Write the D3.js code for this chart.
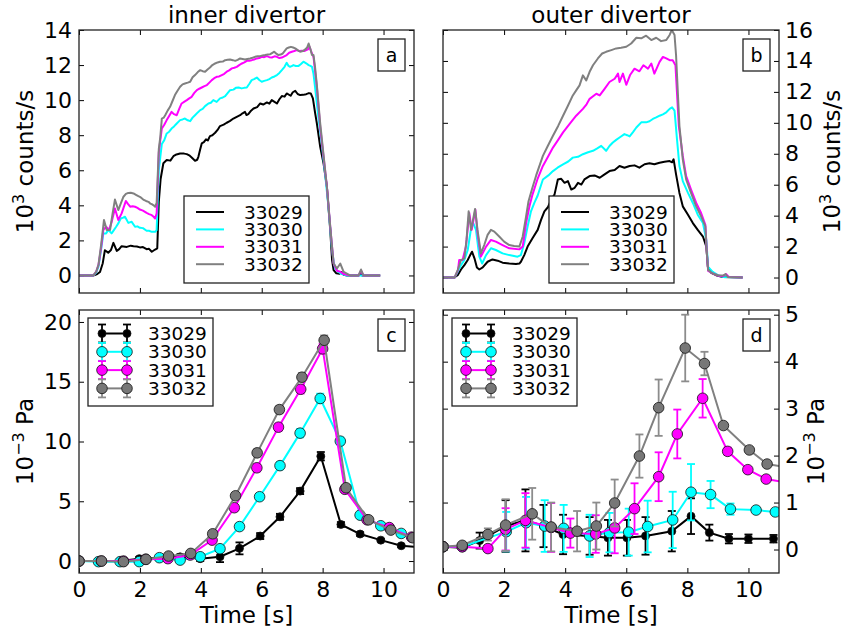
<!DOCTYPE html>
<html>
<head>
<meta charset="utf-8">
<script src="https://cdn.jsdelivr.net/npm/d3@7"></script>
<style>
  body { margin: 0; background: #fff; }
  svg { display: block; font-family: "DejaVu Sans", sans-serif; }
</style>
</head>
<body>
<div id="chart"></div>
<script>
const shots = ['33029', '33030', '33031', '33032']
const lineColors = ['#000000', '#00ffff', '#ff00ff', '#808080']
const markerFills = ['#000000', '#00ffff', '#ff00ff', '#777777']
const errColors = ['#000000', '#00ffff', '#ff00ff', '#8c8c8c']
const timeTicks = [0, 2, 4, 6, 8, 10]

// inner divertor counts: [time s, 10^3 counts/s]
const inner33029 = [[0,0],[0.47,0],[0.6,0.08],[0.69,0.2],[0.78,0.7],[0.85,1.44],[0.96,1.3],[1.05,1.45],[1.13,1.86],[1.24,1.4],[1.32,1.5],[1.4,1.67],[1.57,1.63],[1.7,1.7],[1.79,1.67],[1.9,1.65],[2.0,1.6],[2.1,1.62],[2.22,1.5],[2.3,1.52],[2.39,1.35],[2.5,1.48],[2.57,1.55],[2.62,4.2],[2.68,5.5],[2.77,6.4],[2.88,6.58],[3.0,6.55],[3.1,6.8],[3.2,6.9],[3.32,6.96],[3.45,6.95],[3.54,6.92],[3.62,6.85],[3.7,6.73],[3.81,6.54],[3.88,6.6],[3.92,6.77],[3.98,7.2],[4.03,7.53],[4.1,7.6],[4.17,7.76],[4.23,7.7],[4.3,7.95],[4.38,8.0],[4.47,8.14],[4.55,8.3],[4.63,8.52],[4.75,8.6],[4.85,8.71],[4.95,8.8],[5.07,8.95],[5.18,9.05],[5.29,9.14],[5.37,9.25],[5.45,9.33],[5.5,9.15],[5.56,9.2],[5.65,9.4],[5.73,9.52],[5.85,9.6],[5.95,9.81],[6.05,9.75],[6.17,9.87],[6.25,9.8],[6.33,10.0],[6.42,9.9],[6.5,9.81],[6.58,10.05],[6.66,10.23],[6.75,10.2],[6.82,10.38],[6.95,10.25],[7.02,10.45],[7.1,10.53],[7.18,10.35],[7.26,10.29],[7.36,10.3],[7.46,10.34],[7.55,10.4],[7.61,10.38],[7.68,10.1],[7.75,9.3],[7.81,8.67],[7.92,7.34],[8.03,6.39],[8.14,5.06],[8.25,2.59],[8.31,0.87],[8.36,0.3],[8.45,0.12],[8.55,0.1],[8.62,0.2],[8.69,0.04],[8.8,0],[9.18,0],[9.24,0.1],[9.3,0],[9.89,0]]
const inner33030 = [[0,0],[0.47,0],[0.56,0.15],[0.64,0.5],[0.72,1.4],[0.8,2.4],[0.89,2.4],[0.96,2.6],[1.07,2.4],[1.15,2.6],[1.22,2.78],[1.3,3.0],[1.37,3.25],[1.45,3.3],[1.51,3.35],[1.62,3.0],[1.73,3.06],[1.84,2.78],[1.92,2.8],[2.0,2.72],[2.1,2.7],[2.22,2.55],[2.3,2.55],[2.39,2.49],[2.5,2.49],[2.55,2.59],[2.62,6.0],[2.67,6.77],[2.72,7.5],[2.8,7.72],[2.88,8.1],[2.96,8.2],[3.04,8.38],[3.12,8.5],[3.21,8.67],[3.32,8.86],[3.4,8.9],[3.48,8.95],[3.57,8.85],[3.65,8.8],[3.73,9.0],[3.81,9.14],[3.9,9.3],[3.98,9.43],[4.06,9.5],[4.14,9.66],[4.25,9.81],[4.33,9.85],[4.41,10.0],[4.52,9.9],[4.63,10.1],[4.72,10.15],[4.8,10.23],[4.88,10.4],[4.96,10.57],[5.07,10.6],[5.15,10.7],[5.24,10.72],[5.34,10.67],[5.42,10.7],[5.51,10.72],[5.6,10.95],[5.67,11.14],[5.75,11.2],[5.84,11.29],[5.92,11.15],[6.0,11.05],[6.08,11.1],[6.17,11.14],[6.25,11.2],[6.33,11.29],[6.42,11.35],[6.5,11.43],[6.58,11.55],[6.66,11.71],[6.75,11.9],[6.82,12.13],[6.88,11.95],[6.93,11.9],[7.0,11.95],[7.04,12.0],[7.12,11.95],[7.2,11.94],[7.28,12.05],[7.37,12.19],[7.46,12.1],[7.54,12.0],[7.6,11.95],[7.65,11.9],[7.7,11.5],[7.75,10.76],[7.86,9.05],[7.97,7.53],[8.08,5.82],[8.19,3.92],[8.3,1.63],[8.36,0.8],[8.41,0.4],[8.52,0.2],[8.63,0.08],[8.8,0],[9.89,0]]
const inner33031 = [[0,0],[0.47,0],[0.56,0.2],[0.64,0.6],[0.72,1.5],[0.8,2.6],[0.89,2.78],[0.99,2.6],[1.08,3.1],[1.18,3.82],[1.29,3.16],[1.4,3.54],[1.47,3.9],[1.54,4.25],[1.6,4.1],[1.68,3.92],[1.76,3.95],[1.84,3.92],[1.92,3.85],[2.0,3.76],[2.1,3.7],[2.22,3.57],[2.3,3.5],[2.39,3.44],[2.45,3.35],[2.5,3.25],[2.55,3.54],[2.62,7.0],[2.67,7.72],[2.72,8.38],[2.8,8.6],[2.88,8.86],[2.96,9.1],[3.04,9.33],[3.12,9.2],[3.21,9.14],[3.29,9.5],[3.37,9.81],[3.45,9.9],[3.54,10.0],[3.62,10.1],[3.7,10.19],[3.78,10.4],[3.87,10.57],[3.95,10.65],[4.03,10.72],[4.12,10.8],[4.2,10.86],[4.28,11.0],[4.36,11.14],[4.44,11.25],[4.52,11.33],[4.6,11.35],[4.69,11.43],[4.77,11.5],[4.85,11.62],[4.93,11.7],[5.02,11.81],[5.1,11.85],[5.18,11.9],[5.26,12.0],[5.35,12.09],[5.43,12.15],[5.51,12.24],[5.59,12.25],[5.67,12.28],[5.75,12.32],[5.84,12.38],[5.92,12.4],[6.0,12.47],[6.08,12.45],[6.17,12.51],[6.25,12.45],[6.33,12.43],[6.42,12.5],[6.5,12.47],[6.58,12.4],[6.66,12.43],[6.74,12.5],[6.82,12.57],[6.9,12.7],[6.99,12.76],[7.07,12.8],[7.15,12.85],[7.23,12.8],[7.32,12.81],[7.4,12.8],[7.46,12.85],[7.52,12.9],[7.57,13.04],[7.62,12.8],[7.65,12.66],[7.7,12.47],[7.75,11.7],[7.81,10.76],[7.92,8.48],[8.03,6.77],[8.14,5.06],[8.25,2.78],[8.36,0.68],[8.47,0.27],[8.58,0.21],[8.69,0.08],[8.9,0],[9.18,0],[9.26,0.27],[9.34,0],[9.89,0]]
const inner33032 = [[0,0],[0.47,0],[0.56,0.2],[0.64,0.6],[0.73,1.8],[0.82,3.16],[0.91,2.6],[1.02,2.6],[1.1,3.5],[1.18,4.33],[1.29,3.73],[1.37,4.1],[1.46,4.49],[1.54,4.65],[1.62,4.71],[1.7,4.72],[1.79,4.68],[1.87,4.6],[1.95,4.52],[2.03,4.45],[2.11,4.33],[2.2,4.25],[2.28,4.2],[2.34,4.1],[2.39,4.07],[2.45,4.0],[2.5,3.92],[2.55,4.14],[2.62,7.2],[2.67,7.91],[2.72,8.95],[2.78,9.0],[2.83,9.14],[2.91,9.4],[2.99,9.62],[3.07,9.95],[3.15,10.29],[3.24,10.55],[3.32,10.76],[3.4,10.9],[3.48,10.95],[3.57,11.0],[3.65,11.05],[3.73,11.3],[3.81,11.43],[3.9,11.6],[3.98,11.71],[4.06,11.65],[4.14,11.62],[4.22,11.75],[4.3,11.86],[4.38,12.0],[4.47,12.09],[4.55,12.15],[4.63,12.19],[4.72,12.2],[4.8,12.28],[4.88,12.3],[4.96,12.32],[5.05,12.28],[5.13,12.24],[5.21,12.3],[5.29,12.38],[5.37,12.35],[5.45,12.32],[5.53,12.35],[5.62,12.38],[5.7,12.42],[5.78,12.47],[5.86,12.5],[5.95,12.51],[6.03,12.55],[6.11,12.57],[6.2,12.6],[6.28,12.62],[6.35,12.7],[6.41,12.76],[6.48,12.65],[6.55,12.57],[6.62,12.6],[6.69,12.66],[6.75,12.8],[6.82,12.95],[6.89,13.0],[6.96,13.04],[7.03,13.0],[7.1,12.95],[7.18,12.85],[7.26,12.76],[7.35,12.8],[7.43,12.89],[7.49,13.0],[7.54,13.23],[7.6,12.9],[7.65,12.57],[7.7,12.57],[7.75,11.9],[7.81,10.86],[7.92,8.67],[8.03,6.86],[8.14,5.06],[8.25,2.78],[8.36,0.68],[8.47,0.4],[8.58,0.68],[8.69,0.21],[8.9,0],[9.18,0],[9.26,0.34],[9.34,0],[9.89,0]]

// outer divertor counts: [time s, 10^3 counts/s]
const outer33029 = [[0,0],[0.37,0],[0.48,0.15],[0.59,0.52],[0.7,0.8],[0.81,1.13],[0.89,1.45],[0.95,1.67],[1.03,1.24],[1.11,0.65],[1.19,0.52],[1.3,0.65],[1.46,1.02],[1.62,1.17],[1.79,1.09],[1.95,0.96],[2.17,0.91],[2.39,0.87],[2.5,0.9],[2.55,1.02],[2.66,1.45],[2.77,2.0],[2.93,2.54],[3.1,3.08],[3.21,3.73],[3.32,4.28],[3.44,4.56],[3.54,5.04],[3.65,5.36],[3.76,6.34],[3.87,6.38],[3.98,6.12],[4.09,6.23],[4.2,5.69],[4.31,5.8],[4.42,6.12],[4.53,6.01],[4.63,6.34],[4.8,6.56],[4.96,6.6],[5.13,6.45],[5.29,6.67],[5.45,6.88],[5.62,6.95],[5.78,7.21],[5.94,7.1],[6.11,7.21],[6.27,7.25],[6.43,7.1],[6.6,7.32],[6.76,7.38],[6.92,7.32],[7.09,7.42],[7.25,7.49],[7.42,7.53],[7.5,7.45],[7.55,7.64],[7.63,6.67],[7.74,5.47],[7.85,4.6],[8.02,4.06],[8.18,3.52],[8.34,3.08],[8.51,2.65],[8.62,2.0],[8.67,0.7],[8.78,0.3],[8.94,0.15],[9.16,0.04],[9.81,0]]
const outer33030 = [[0,0],[0.38,0],[0.48,0.37],[0.59,0.8],[0.7,1.13],[0.81,1.78],[0.92,3.19],[0.99,3.52],[1.08,3.08],[1.19,1.35],[1.28,0.91],[1.41,1.45],[1.57,1.89],[1.73,1.78],[1.95,1.56],[2.17,1.45],[2.44,1.35],[2.55,1.45],[2.66,2.21],[2.77,3.3],[2.88,4.28],[2.99,4.82],[3.1,5.3],[3.27,6.34],[3.45,6.6],[3.6,6.88],[3.75,7.1],[3.93,7.32],[4.1,7.5],[4.25,7.75],[4.42,7.8],[4.58,7.97],[4.75,8.1],[4.91,8.19],[5.05,8.35],[5.18,8.51],[5.34,8.19],[5.45,8.5],[5.56,8.73],[5.67,8.9],[5.78,9.05],[5.94,9.27],[6.03,9.2],[6.11,9.12],[6.22,9.4],[6.33,9.7],[6.49,10.03],[6.65,10.03],[6.76,10.1],[6.87,10.25],[6.98,10.35],[7.09,10.46],[7.2,10.55],[7.31,10.68],[7.42,10.9],[7.5,11.0],[7.58,10.79],[7.66,8.95],[7.74,7.21],[7.85,6.23],[8.02,5.47],[8.18,4.82],[8.34,4.06],[8.51,3.52],[8.62,2.43],[8.68,0.69],[8.83,0.37],[9.0,0.15],[9.16,0.04],[9.81,0]]
const outer33031 = [[0,0],[0.38,0],[0.49,0.48],[0.53,1.13],[0.64,1.13],[0.75,2.0],[0.86,4.17],[0.94,3.08],[1.06,4.39],[1.13,2.87],[1.24,1.35],[1.41,2.0],[1.57,2.43],[1.73,2.32],[1.95,2.1],[2.17,1.89],[2.5,1.82],[2.61,2.0],[2.72,3.52],[2.83,4.6],[2.93,5.36],[3.1,6.4],[3.27,7.21],[3.45,7.85],[3.6,8.4],[3.77,8.9],[3.93,9.38],[4.14,9.92],[4.36,10.46],[4.58,10.9],[4.7,11.2],[4.8,11.55],[5.02,11.88],[5.13,11.77],[5.29,12.2],[5.45,12.64],[5.62,12.85],[5.73,13.18],[5.78,12.64],[5.89,13.18],[6.0,12.46],[6.13,13.11],[6.27,13.5],[6.43,13.33],[6.56,13.72],[6.71,13.5],[6.82,13.83],[6.92,13.18],[7.09,13.94],[7.2,14.26],[7.31,14.16],[7.42,14.05],[7.52,14.05],[7.61,13.72],[7.72,9.81],[7.85,7.86],[7.96,6.56],[8.12,5.69],[8.29,4.82],[8.45,4.17],[8.59,3.41],[8.64,1.56],[8.68,0.43],[8.83,0.26],[9.0,0.13],[9.16,0.09],[9.27,0.22],[9.36,0.04],[9.81,0]]
const outer33032 = [[0,0],[0.38,0],[0.48,0.48],[0.59,1.13],[0.7,1.24],[0.77,2.43],[0.84,4.28],[0.92,3.08],[1.05,4.43],[1.13,3.08],[1.24,1.56],[1.35,2.1],[1.46,2.76],[1.57,3.08],[1.68,2.97],[1.84,2.65],[2.0,2.32],[2.17,2.1],[2.33,2.04],[2.5,2.0],[2.61,2.65],[2.72,3.95],[2.8,4.93],[2.91,5.69],[3.05,6.6],[3.27,7.86],[3.43,8.5],[3.6,9.16],[3.77,9.8],[3.93,10.46],[4.09,11.1],[4.25,11.77],[4.36,12.1],[4.47,12.42],[4.58,13.07],[4.69,12.74],[4.8,13.3],[4.91,13.72],[5.07,14.16],[5.21,14.48],[5.34,14.59],[5.51,14.7],[5.67,14.81],[5.83,14.85],[6.0,14.92],[6.16,15.13],[6.33,15.5],[6.49,15.46],[6.65,15.63],[6.82,15.35],[6.98,15.5],[7.14,15.28],[7.31,15.35],[7.42,15.68],[7.49,16.0],[7.58,15.68],[7.63,14.37],[7.74,9.81],[7.85,7.64],[7.96,6.34],[8.12,5.47],[8.29,4.6],[8.45,3.95],[8.59,3.3],[8.64,1.56],[8.68,0.48],[8.83,0.26],[9.0,0.15],[9.16,0.13],[9.25,0.22],[9.32,0.04],[9.81,0]]

// inner divertor pressure: [time s, 10^-3 Pa, error]
const pInner33029 = [[0,0,0.1],[0.64,0,0.1],[1.35,0,0.1],[1.98,0.2,0.15],[2.64,0.25,0.15],[3.32,0.35,0.2],[3.98,0.2,0.2],[4.63,0.36,0.45],[5.27,1.06,0.5],[5.95,2.09,0.25],[6.6,3.7,0.25],[7.26,5.85,0.25],[7.94,8.77,0.35],[8.6,3.06,0.2],[9.23,2.26,0.15],[9.91,1.75,0.1],[10.58,1.28,0.1],[11.24,1.15,0.1]]
const pInner33030 = [[0,0,0.1],[0.64,-0.05,0.1],[1.35,-0.05,0.1],[1.98,-0.05,0.1],[2.64,0.28,0.15],[3.32,0.08,0.15],[3.98,0.36,0.2],[4.63,1.03,0.25],[5.27,2.88,0.25],[5.93,5.38,0.25],[6.6,7.98,0.3],[7.26,10.7,0.35],[7.92,13.6,0.4],[8.58,10.03,0.3],[9.23,3.84,0.2],[9.91,2.95,0.15],[10.58,2.31,0.15],[11.24,1.95,0.1]]
const pInner33031 = [[0,0,0.1],[0.73,0,0.1],[1.46,0,0.1],[2.19,0.15,0.15],[2.92,0.2,0.15],[3.65,0.5,0.2],[4.37,1.75,0.25],[5.1,4.46,0.25],[5.84,7.8,0.3],[6.55,11.2,0.3],[7.28,14.37,0.35],[8.0,17.75,0.4],[8.73,6.0,0.25],[9.46,3.45,0.2],[10.19,2.8,0.15],[10.92,2.0,0.1]]
const pInner33032 = [[0,0,0.1],[0.74,0,0.1],[1.46,-0.05,0.1],[2.2,0.14,0.15],[2.94,0.42,0.15],[3.67,0.64,0.2],[4.39,2.28,0.25],[5.14,5.46,0.25],[5.85,9.05,0.3],[6.58,12.67,0.3],[7.32,15.38,0.35],[8.05,18.47,0.4],[8.77,6.13,0.25],[9.51,3.45,0.2],[10.24,2.59,0.15],[10.96,1.95,0.1]]

// outer divertor pressure: [time s, 10^-3 Pa, error]
const pOuter33029 = [[0,0.06,0.03],[0.63,0.04,0.03],[1.2,0.19,0.17],[2.05,0.5,0.55],[2.7,0.62,0.66],[3.29,0.5,0.45],[3.93,0.32,0.42],[4.8,0.29,0.4],[5.4,0.25,0.38],[6.02,0.25,0.38],[6.63,0.29,0.4],[7.49,0.39,0.43],[8.12,0.71,0.38],[8.72,0.36,0.17],[9.36,0.23,0.1],[10.0,0.23,0.09],[10.82,0.23,0.08]]
const pOuter33030 = [[0,0.06,0.03],[0.63,0.06,0.03],[2.07,0.38,0.42],[2.72,0.57,0.55],[3.33,0.5,0.55],[3.95,0.45,0.5],[4.8,0.29,0.45],[5.45,0.36,0.42],[6.08,0.37,0.5],[6.7,0.49,0.55],[7.52,0.63,0.6],[8.12,1.22,0.6],[8.76,1.17,0.29],[9.41,0.86,0.12],[10.25,0.84,0.05],[10.88,0.8,0.05]]
const pOuter33031 = [[0,0.06,0.03],[0.63,0.06,0.03],[1.47,0.02,0.05],[2.05,0.43,0.45],[2.7,0.62,0.58],[3.54,0.47,0.52],[4.17,0.35,0.31],[5.0,0.33,0.4],[5.62,0.46,0.54],[6.27,0.87,0.54],[7.06,1.55,0.52],[7.67,2.46,0.52],[8.5,3.22,0.41],[9.32,2.09,0.08],[9.98,1.7,0.06],[10.58,1.5,0.05],[11.3,1.42,0.05]]
const pOuter33032 = [[0,0.06,0.03],[0.63,0.09,0.03],[1.47,0.32,0.13],[2.05,0.52,0.55],[2.92,0.76,0.55],[3.54,0.48,0.52],[4.39,0.39,0.43],[5.02,0.5,0.5],[5.62,0.99,0.5],[6.43,1.99,0.46],[7.06,3.02,0.6],[7.93,4.29,0.71],[8.56,3.96,0.25],[9.18,2.64,0.05],[10.03,2.12,0.05],[10.61,1.82,0.05],[11.3,1.75,0.05]]

const W = 844, H = 634
const FONT = '"DejaVu Sans", sans-serif'

const svg = d3.select('#chart').append('svg')
  .attr('width', W)
  .attr('height', H)

// panel boxes
const colLeft = { x0: 79, x1: 414 }
const colRight = { x0: 443, x1: 779 }
const rowUpper = { y0: 30, y1: 293 }
const rowLower = { y0: 310, y1: 573 }

function makePanel (cfg) {
  const x = d3.scaleLinear().domain([0, 11]).range([cfg.col.x0, cfg.col.x1])
  const y = d3.scaleLinear().domain(cfg.yDomain).range([cfg.row.y1, cfg.row.y0])
  const g = svg.append('g')

  svg.append('clipPath').attr('id', 'clip-' + cfg.id)
    .append('rect')
      .attr('x', cfg.col.x0).attr('y', cfg.row.y0)
      .attr('width', cfg.col.x1 - cfg.col.x0)
      .attr('height', cfg.row.y1 - cfg.row.y0)

  const styleAxis = sel => {
    sel.select('.domain').remove()
    sel.attr('font-size', 22).attr('font-family', FONT)
    sel.selectAll('line').attr('stroke', '#000')
    sel.selectAll('text').attr('fill', '#000')
  }

  // x ticks, bottom and top, pointing inward
  g.append('g')
    .attr('transform', `translate(0,${cfg.row.y1})`)
    .call(d3.axisBottom(x).tickValues(timeTicks).tickSize(-5).tickPadding(8)
      .tickFormat(cfg.xLabels ? d3.format('d') : () => ''))
    .call(styleAxis)
  g.append('g')
    .attr('transform', `translate(0,${cfg.row.y0})`)
    .call(d3.axisTop(x).tickValues(timeTicks).tickSize(-5).tickFormat(() => ''))
    .call(styleAxis)

  // y ticks on both sides, labels on one side
  const yTicks = d3.range(0, cfg.yDomain[1] + 1e-9, cfg.yStep)
  const labelLeft = cfg.side === 'left'
  g.append('g')
    .attr('transform', `translate(${cfg.col.x0},0)`)
    .call(d3.axisLeft(y).tickValues(yTicks).tickSize(-5).tickPadding(7)
      .tickFormat(labelLeft ? d3.format('d') : () => ''))
    .call(styleAxis)
  g.append('g')
    .attr('transform', `translate(${cfg.col.x1},0)`)
    .call(d3.axisRight(y).tickValues(yTicks).tickSize(-5).tickPadding(6)
      .tickFormat(labelLeft ? () => '' : d3.format('d')))
    .call(styleAxis)

  const plot = g.append('g').attr('clip-path', `url(#clip-${cfg.id})`)
  return { x, y, g, plot, cfg }
}

function drawFrame (p) {
  const c = p.cfg
  p.g.append('rect')
    .attr('x', c.col.x0).attr('y', c.row.y0)
    .attr('width', c.col.x1 - c.col.x0).attr('height', c.row.y1 - c.row.y0)
    .attr('fill', 'none').attr('stroke', '#222').attr('stroke-width', 1.3)

  // panel letter
  const bx = c.col.x1 - 36, by = c.row.y0 + 9
  p.g.append('rect')
    .attr('x', bx).attr('y', by).attr('width', 27).attr('height', 32)
    .attr('fill', '#fff').attr('stroke', '#222').attr('stroke-width', 1.3)
  p.g.append('text')
    .attr('x', bx + 13.5).attr('y', by + 16).attr('dy', '0.35em')
    .attr('text-anchor', 'middle').attr('font-size', 19).attr('font-family', FONT)
    .text(c.letter)
}

function yLabel (p, cx, base, sup, rest) {
  const cy = (p.cfg.row.y0 + p.cfg.row.y1) / 2
  const t = svg.append('text')
    .attr('transform', `translate(${cx},${cy}) rotate(-90)`)
    .attr('text-anchor', 'middle').attr('dy', '0.35em')
    .attr('font-size', 23).attr('font-family', FONT)
  t.append('tspan').text(base)
  t.append('tspan').attr('font-size', 16).attr('dy', '-0.55em').text(sup)
  t.append('tspan').attr('dy', '0.4em').text(rest)
}

const lineGen = p => d3.line().x(d => p.x(d[0])).y(d => p.y(d[1]))

// ---- upper panels: counts
const countsInner = [inner33029, inner33030, inner33031, inner33032]
const countsOuter = [outer33029, outer33030, outer33031, outer33032]

const pa = makePanel({ id: 'a', col: colLeft, row: rowUpper, yDomain: [-1, 14], yStep: 2, side: 'left', xLabels: false, letter: 'a' })
const pb = makePanel({ id: 'b', col: colRight, row: rowUpper, yDomain: [-1, 16], yStep: 2, side: 'right', xLabels: false, letter: 'b' })

function drawCounts (p, series, legendX) {
  series.forEach((s, i) => {
    p.plot.append('path')
      .datum(s)
      .attr('d', lineGen(p))
      .attr('fill', 'none')
      .attr('stroke', lineColors[i])
      .attr('stroke-width', 2)
      .attr('stroke-linejoin', 'round')
  })
  // legend
  const lg = p.g.append('g')
  lg.append('rect')
    .attr('x', legendX).attr('y', 196).attr('width', 125).attr('height', 87)
    .attr('fill', '#fff').attr('stroke', '#222').attr('stroke-width', 1.3)
  shots.forEach((s, i) => {
    const ry = 212 + i * 17.4
    lg.append('line')
      .attr('x1', legendX + 12).attr('x2', legendX + 40)
      .attr('y1', ry).attr('y2', ry)
      .attr('stroke', lineColors[i]).attr('stroke-width', 2)
    lg.append('text')
      .attr('x', legendX + 60).attr('y', ry).attr('dy', '0.36em')
      .attr('font-size', 18.5).attr('font-family', FONT)
      .text(s)
  })
  drawFrame(p)
}

drawCounts(pa, countsInner, 184)
drawCounts(pb, countsOuter, 549)

// ---- lower panels: pressure with error bars
const pressInner = [pInner33029, pInner33030, pInner33031, pInner33032]
const pressOuter = [pOuter33029, pOuter33030, pOuter33031, pOuter33032]

const pc = makePanel({ id: 'c', col: colLeft, row: rowLower, yDomain: [-1, 21], yStep: 5, side: 'left', xLabels: true, letter: 'c' })
const pd = makePanel({ id: 'd', col: colRight, row: rowLower, yDomain: [-0.5, 5.1], yStep: 1, side: 'right', xLabels: true, letter: 'd' })

const markerR = i => (i === 0 ? 4 : 5.3)

function drawPressure (p, series) {
  series.forEach((s, i) => {
    const sg = p.plot.append('g')
    // error bars
    sg.selectAll('.bar').data(s).enter().append('line')
      .attr('x1', d => p.x(d[0])).attr('x2', d => p.x(d[0]))
      .attr('y1', d => p.y(d[1] - d[2])).attr('y2', d => p.y(d[1] + d[2]))
      .attr('stroke', errColors[i]).attr('stroke-width', 1.8)
    ;[-1, 1].forEach(sgn => {
      sg.selectAll('.cap' + sgn).data(s).enter().append('line')
        .attr('x1', d => p.x(d[0]) - 4).attr('x2', d => p.x(d[0]) + 4)
        .attr('y1', d => p.y(d[1] + sgn * d[2])).attr('y2', d => p.y(d[1] + sgn * d[2]))
        .attr('stroke', errColors[i]).attr('stroke-width', 1.8)
    })
    sg.append('path')
      .datum(s)
      .attr('d', lineGen(p))
      .attr('fill', 'none')
      .attr('stroke', lineColors[i])
      .attr('stroke-width', 2)
    sg.selectAll('circle').data(s).enter().append('circle')
      .attr('cx', d => p.x(d[0])).attr('cy', d => p.y(d[1]))
      .attr('r', markerR(i))
      .attr('fill', markerFills[i])
      .attr('stroke', '#111').attr('stroke-width', 0.8)
  })

  // legend with errorbar samples
  const lx = p.cfg.col.x0 + 9, ly = 318
  const lg = p.g.append('g')
  lg.append('rect')
    .attr('x', lx).attr('y', ly).attr('width', 125).attr('height', 88)
    .attr('fill', '#fff').attr('stroke', '#222').attr('stroke-width', 1.3)
  shots.forEach((s, i) => {
    const ry = 333.5 + i * 18.3
    const xa = lx + 14, xb = lx + 39
    ;[xa, xb].forEach(xx => {
      lg.append('line').attr('x1', xx).attr('x2', xx).attr('y1', ry - 9).attr('y2', ry + 9)
        .attr('stroke', errColors[i]).attr('stroke-width', 1.8)
      ;[-9, 9].forEach(o => {
        lg.append('line').attr('x1', xx - 4).attr('x2', xx + 4).attr('y1', ry + o).attr('y2', ry + o)
          .attr('stroke', errColors[i]).attr('stroke-width', 1.8)
      })
    })
    lg.append('line').attr('x1', xa).attr('x2', xb).attr('y1', ry).attr('y2', ry)
      .attr('stroke', lineColors[i]).attr('stroke-width', 2)
    ;[xa, xb].forEach(xx => {
      lg.append('circle').attr('cx', xx).attr('cy', ry).attr('r', markerR(i))
        .attr('fill', markerFills[i]).attr('stroke', '#111').attr('stroke-width', 0.8)
    })
    lg.append('text')
      .attr('x', lx + 60).attr('y', ry).attr('dy', '0.36em')
      .attr('font-size', 18.5).attr('font-family', FONT)
      .text(s)
  })
  drawFrame(p)
}

drawPressure(pc, pressInner)
drawPressure(pd, pressOuter)

// ---- titles and axis labels
const colCenter = c => (c.x0 + c.x1) / 2
svg.append('text').attr('x', colCenter(colLeft)).attr('y', 23)
  .attr('text-anchor', 'middle').attr('font-size', 23).attr('font-family', FONT)
  .text('inner divertor')
svg.append('text').attr('x', colCenter(colRight)).attr('y', 23)
  .attr('text-anchor', 'middle').attr('font-size', 23).attr('font-family', FONT)
  .text('outer divertor')

;[colLeft, colRight].forEach(c => {
  svg.append('text').attr('x', colCenter(c)).attr('y', 623)
    .attr('text-anchor', 'middle').attr('font-size', 23).attr('font-family', FONT)
    .text('Time [s]')
})

yLabel(pa, 25, '10', '3', ' counts/s')
yLabel(pb, 832, '10', '3', ' counts/s')
yLabel(pc, 25, '10', '\u22123', ' Pa')
yLabel(pd, 816, '10', '\u22123', ' Pa')
</script>
</body>
</html>
